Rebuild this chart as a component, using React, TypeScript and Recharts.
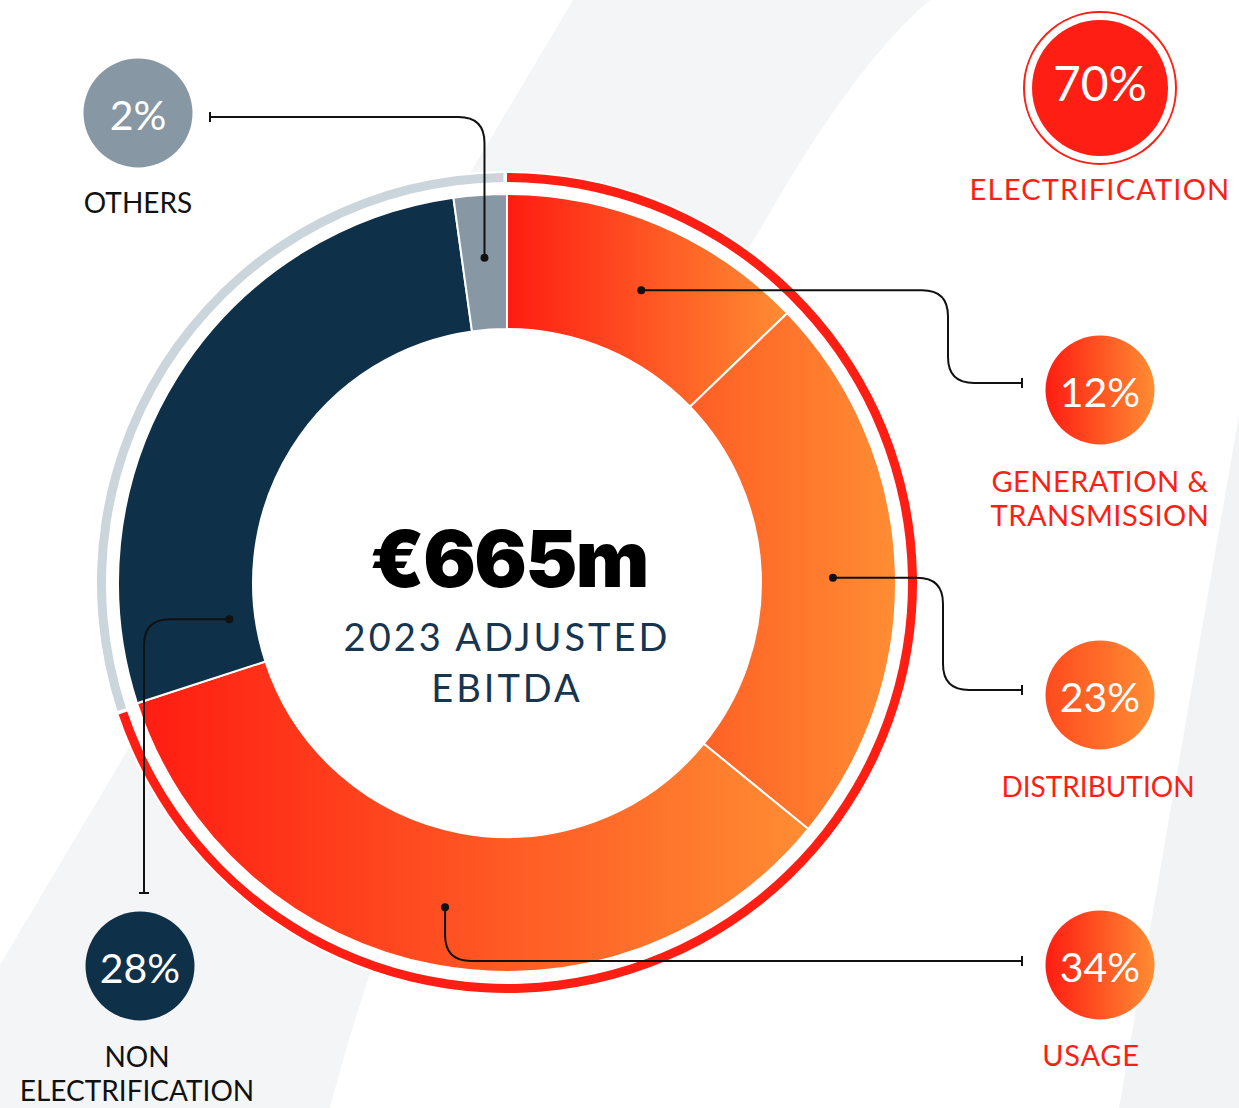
import React from "react";
import { PieChart, Pie, Cell } from "recharts";

// ── Data ─────────────────────────────────────────────────────────────────────

const SEGMENTS = ["Generation & Transmission", "Distribution", "Usage", "Non Electrification", "Others"];
// slice sizes as drawn (share of EBITDA, %), and the rounded shares printed in the badges
const SEGMENT_VALUES = [12.8, 23.1, 34.1, 27.8, 2.2];
const SHARE_LABELS = [12, 23, 34, 28, 2];
const CAPTIONS = [["GENERATION &", "TRANSMISSION"], ["DISTRIBUTION"], ["USAGE"], ["NON", "ELECTRIFICATION"], ["OTHERS"]];

const GROUPS = ["Electrification", "Non Electrification"];
const GROUP_VALUES = [70, 30];
const GROUP_CAPTION = "ELECTRIFICATION";

const TOTAL_LABEL = "€665m";
const SUBTITLE = ["2023 ADJUSTED", "EBITDA"];

const segmentData = SEGMENTS.map((name, i) => ({ name, value: SEGMENT_VALUES[i] }));
const groupData = GROUPS.map((name, i) => ({ name, value: GROUP_VALUES[i] }));

// ── Layout / style ───────────────────────────────────────────────────────────

const W = 1239;
const H = 1108;
const CX = 507;
const CY = 583;

const RED = "#FF1E14";
const NAVY = "#0F3049";
const SLATE = "#8797A4";
const RING_GREY = "#CBD5DC";
const FONT = "Lato, 'Open Sans', sans-serif";

const SEGMENT_FILLS = ["url(#gGen)", "url(#gDist)", "url(#gUse)", NAVY, SLATE];
const GROUP_FILLS = [RED, RING_GREY];

type Leader = {
  badge: [number, number];
  badgeFill: string;
  capX: number;
  capY: number[];
  capColor: string;
  capSize: number;
  capSpacing: number;
  end: [number, number];
  route: "hvh" | "vh" | "hv";
  turnX?: number;
  angleShift: number;
  rShift: number;
};

const LEADERS: Leader[] = [
  { badge: [1100, 390], badgeFill: "url(#bGen)", capX: 1100, capY: [492, 526], capColor: RED, capSize: 29, capSpacing: 0.5, end: [1022, 383], route: "hvh", turnX: 948, angleShift: -1.6, rShift: 0.5 },
  { badge: [1100, 695], badgeFill: "url(#bDist)", capX: 1098, capY: [797], capColor: RED, capSize: 28, capSpacing: 0, end: [1022, 690], route: "hvh", turnX: 943, angleShift: -1.4, rShift: 4.5 },
  { badge: [1100, 965], badgeFill: "url(#bUse)", capX: 1091, capY: [1066], capColor: RED, capSize: 29, capSpacing: 0.8, end: [1022, 961], route: "vh", angleShift: -0.2, rShift: 8.5 },
  { badge: [140, 966], badgeFill: NAVY, capX: 137, capY: [1067, 1101], capColor: "#111", capSize: 28, capSpacing: 0, end: [144, 893], route: "hv", angleShift: 39.5, rShift: -41.5 },
  { badge: [138, 113], badgeFill: SLATE, capX: 138, capY: [213], capColor: "#111", capSize: 28, capSpacing: 0, end: [210, 117], route: "vh", angleShift: 0, rShift: 4.5 },
];

function roundedPath(pts: [number, number][], r: number) {
  let d = `M${pts[0][0]},${pts[0][1]}`;
  for (let i = 1; i < pts.length - 1; i++) {
    const [px, py] = pts[i - 1];
    const [x, y] = pts[i];
    const [nx, ny] = pts[i + 1];
    const l1 = Math.hypot(x - px, y - py);
    const l2 = Math.hypot(nx - x, ny - y);
    const rr = Math.min(r, l1 / 2, l2 / 2);
    const ax = x - ((x - px) / l1) * rr;
    const ay = y - ((y - py) / l1) * rr;
    const bx = x + ((nx - x) / l2) * rr;
    const by = y + ((ny - y) / l2) * rr;
    d += ` L${ax},${ay} Q${x},${y} ${bx},${by}`;
  }
  const last = pts[pts.length - 1];
  return d + ` L${last[0]},${last[1]}`;
}

// connector from the slice to its badge
const renderLeader = (props: any) => {
  const { cx, cy, midAngle, innerRadius, outerRadius, index } = props;
  const lg = LEADERS[index];
  const RAD = Math.PI / 180;
  const a = (midAngle + lg.angleShift) * RAD;
  const r = (innerRadius + outerRadius) / 2 + lg.rShift;
  const x = cx + r * Math.cos(-a);
  const y = cy + r * Math.sin(-a);
  const [ex, ey] = lg.end;
  let pts: [number, number][];
  if (lg.route === "hvh") pts = [[x, y], [lg.turnX!, y], [lg.turnX!, ey], [ex, ey]];
  else if (lg.route === "vh") pts = [[x, y], [x, ey], [ex, ey]];
  else pts = [[x, y], [ex, y], [ex, ey]];
  const horizontalEnd = lg.route !== "hv";
  return (
    <g key={`leader-${index}`}>
      <path d={roundedPath(pts, 26)} fill="none" stroke="#111" strokeWidth={2} />
      {horizontalEnd ? (
        <line x1={ex} x2={ex} y1={ey - 5} y2={ey + 5} stroke="#111" strokeWidth={2} />
      ) : (
        <line x1={ex - 5} x2={ex + 5} y1={ey} y2={ey} stroke="#111" strokeWidth={2} />
      )}
      <circle cx={x} cy={y} r={4} fill="#111" />
    </g>
  );
};

export default function App() {
  return (
    <div style={{ position: "absolute", left: 0, top: 0, width: W, height: H, background: "#fff", overflow: "hidden" }}>
      {/* Background swooshes */}
      <svg width={W} height={H} style={{ position: "absolute", left: 0, top: 0 }}>
        <path d="M573,0 L930,0 C860,60 800,160 760,230 C600,480 420,760 330,1108 L0,1108 L0,965 Z" fill="#F4F5F7" />
        <path d="M1245,380 L1239,1108 L1119,1108 Z" fill="#F1F3F5" />
        <circle cx={CX} cy={CY} r={412} fill="#fff" />
      </svg>

      <div style={{ position: "absolute", left: 0, top: 0 }}>
        <PieChart width={W} height={H} margin={{ top: 0, right: 0, bottom: 0, left: 0 }}>
          <defs>
            <linearGradient id="gGen" x1="0" y1="0" x2="1" y2="0">
              <stop offset="0%" stopColor="#FF1C12" />
              <stop offset="100%" stopColor="#FF8D33" />
            </linearGradient>
            <linearGradient id="gDist" x1="0" y1="0" x2="1" y2="0">
              <stop offset="0%" stopColor="#FF5E25" />
              <stop offset="100%" stopColor="#FF8D33" />
            </linearGradient>
            <linearGradient id="gUse" x1="0" y1="0" x2="1" y2="0">
              <stop offset="0%" stopColor="#FF1C12" />
              <stop offset="100%" stopColor="#FF8D33" />
            </linearGradient>
          </defs>
          <Pie
            data={groupData}
            dataKey="value"
            nameKey="name"
            cx={CX}
            cy={CY}
            startAngle={90}
            endAngle={-270}
            innerRadius={401}
            outerRadius={410}
            paddingAngle={0.5}
            stroke="none"
            isAnimationActive={false}
          >
            {groupData.map((d, i) => (
              <Cell key={d.name} fill={GROUP_FILLS[i]} />
            ))}
          </Pie>
          <Pie
            data={segmentData}
            dataKey="value"
            nameKey="name"
            cx={CX}
            cy={CY}
            startAngle={90}
            endAngle={-270}
            innerRadius={254}
            outerRadius={389}
            stroke="#fff"
            strokeWidth={2}
            label={renderLeader}
            labelLine={false}
            isAnimationActive={false}
          >
            {segmentData.map((d, i) => (
              <Cell key={d.name} fill={SEGMENT_FILLS[i]} />
            ))}
          </Pie>
        </PieChart>
      </div>

      {/* Badges, captions and centre text */}
      <svg width={W} height={H} style={{ position: "absolute", left: 0, top: 0, pointerEvents: "none" }}>
        <defs>
          <linearGradient id="bGen" x1="0" y1="0" x2="1" y2="0">
            <stop offset="0%" stopColor="#FF1C12" />
            <stop offset="100%" stopColor="#FF8D33" />
          </linearGradient>
          <linearGradient id="bDist" x1="0" y1="0" x2="1" y2="0">
            <stop offset="0%" stopColor="#FF4A1E" />
            <stop offset="100%" stopColor="#FF8D33" />
          </linearGradient>
          <linearGradient id="bUse" x1="0" y1="0" x2="1" y2="0">
            <stop offset="0%" stopColor="#FF1C12" />
            <stop offset="100%" stopColor="#FF8D33" />
          </linearGradient>
        </defs>

        {/* Electrification total */}
        <circle cx={1100} cy={88} r={76} fill="#fff" stroke={RED} strokeWidth={2} />
        <circle cx={1100} cy={88} r={68} fill={RED} />
        <text x={1100} y={101} textAnchor="middle" fill="#fff" fontFamily={FONT} fontSize={48}>
          {GROUP_VALUES[0]}%
        </text>
        <text x={1100} y={200} textAnchor="middle" fill={RED} fontFamily={FONT} fontSize={29} letterSpacing={1.2}>
          {GROUP_CAPTION}
        </text>

        {LEADERS.map((lg, i) => (
          <g key={SEGMENTS[i]}>
            <circle cx={lg.badge[0]} cy={lg.badge[1]} r={54.5} fill={lg.badgeFill} />
            <text x={lg.badge[0]} y={lg.badge[1] + 17} textAnchor="middle" fill="#fff" fontFamily={FONT} fontSize={41}>
              {SHARE_LABELS[i]}%
            </text>
            {CAPTIONS[i].map((line, j) => (
              <text key={line} x={lg.capX} y={lg.capY[j]} textAnchor="middle" fill={lg.capColor} fontFamily={FONT} fontSize={lg.capSize} letterSpacing={lg.capSpacing}>
                {line}
              </text>
            ))}
          </g>
        ))}

        <text x={CX + 2} y={587} textAnchor="middle" fill="#000" fontFamily="Inter, Roboto, sans-serif" fontWeight={900} fontSize={78} letterSpacing={-1.5}>
          {TOTAL_LABEL}
        </text>
        <text x={CX} y={651} textAnchor="middle" fill="#17354F" fontFamily={FONT} fontSize={38} letterSpacing={3}>
          {SUBTITLE[0]}
        </text>
        <text x={CX} y={702} textAnchor="middle" fill="#17354F" fontFamily={FONT} fontSize={38} letterSpacing={3}>
          {SUBTITLE[1]}
        </text>
      </svg>
    </div>
  );
}
